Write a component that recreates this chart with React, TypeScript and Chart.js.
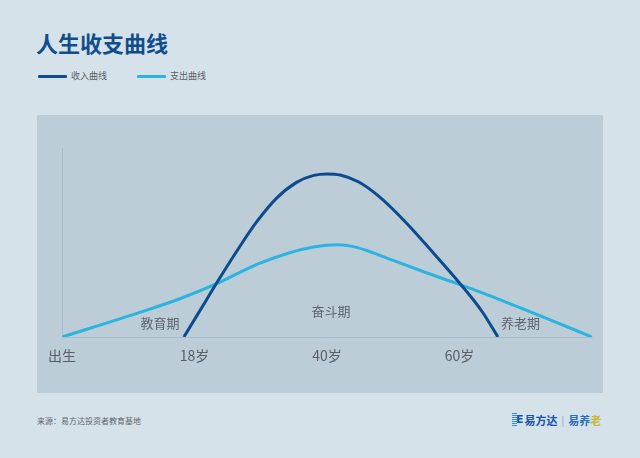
import React, { useEffect, useRef } from "react";
import { Chart, registerables } from "chart.js";

Chart.register(...registerables);

const title = "人生收支曲线";
const seriesNames = ["收入曲线", "支出曲线"];
const tickValues = [0, 1, 2, 3];
const tickLabels = ["出生", "18岁", "40岁", "60岁"];

const incomeX = [0.92, 1.05, 1.18, 1.32, 1.47, 1.62, 1.77, 1.9, 2.0, 2.1, 2.24, 2.39, 2.59, 2.79, 3.0, 3.17, 3.29];
const incomeY = [0, 15, 30, 45.5, 61, 73.5, 81.8, 85.5, 86.3, 85.7, 82, 74.5, 61, 45.5, 28.6, 13.5, 0];

const expenseX = [0, 0.6, 0.9, 1.18, 1.35, 1.5, 1.7, 1.9, 2.08, 2.2, 2.35, 2.5, 2.75, 3.0, 3.35, 3.67, 4.0];
const expenseY = [0, 13.3, 20.5, 28.6, 34.5, 39.2, 44.2, 47.6, 48.8, 47.8, 44.5, 40.5, 34, 27.8, 18.5, 9.5, 0];

const phaseLabels = ["教育期", "奋斗期", "养老期"];
const phaseX = [0.74, 2.03, 3.46];
const phaseY = [7.4, 13.5, 7.4];

const sourceText = "来源：易方达投资者教育基地";

const DARK = "#0e4a8e";
const LIGHT = "#2ab4df";
const FONT = "'Noto Sans CJK SC', 'Noto Sans', sans-serif";

const phasePlugin = {
  id: "phaseLabels",
  afterDatasetsDraw(chart: any) {
    const { ctx, scales } = chart;
    ctx.save();
    ctx.font = `13px ${FONT}`;
    ctx.fillStyle = "#5d6670";
    ctx.textAlign = "center";
    ctx.textBaseline = "middle";
    phaseLabels.forEach((t, i) => {
      ctx.fillText(t, scales.x.getPixelForValue(phaseX[i]), scales.y.getPixelForValue(phaseY[i]));
    });
    ctx.restore();
  },
};

export default function App() {
  const ref = useRef<HTMLCanvasElement>(null);
  useEffect(() => {
    if (!ref.current) return;
    const chart = new Chart(ref.current, {
      type: "line",
      data: {
        datasets: [
          {
            label: seriesNames[0],
            data: incomeX.map((x, i) => ({ x, y: incomeY[i] })),
            borderColor: DARK,
            borderWidth: 3,
            pointRadius: 0,
            cubicInterpolationMode: "monotone",
            fill: false,
          },
          {
            label: seriesNames[1],
            data: expenseX.map((x, i) => ({ x, y: expenseY[i] })),
            borderColor: LIGHT,
            borderWidth: 3,
            pointRadius: 0,
            cubicInterpolationMode: "monotone",
            fill: false,
          },
        ],
      },
      options: {
        responsive: false,
        animation: false,
        layout: { padding: { left: 25, right: 11, top: 33, bottom: 0 } },
        plugins: { legend: { display: false }, tooltip: { enabled: false }, title: { display: false } },
        scales: {
          x: {
            type: "linear",
            min: 0,
            max: 4,
            grid: { display: false, drawTicks: false },
            border: { display: true, color: "#a9bccb", width: 1 },
            afterBuildTicks: (scale: any) => {
              scale.ticks = tickValues.map((v) => ({ value: v }));
            },
            afterFit: (scale: any) => {
              scale.height = 56;
            },
            ticks: {
              padding: 10,
              autoSkip: false,
              maxRotation: 0,
              color: "#585f66",
              font: { family: FONT, size: 14 },
              callback: (v: any) => tickLabels[tickValues.indexOf(Number(v))] ?? "",
            },
          },
          y: {
            min: 0,
            max: 100,
            grid: { display: false, drawTicks: false },
            border: { display: true, color: "#a9bccb", width: 1 },
            ticks: { display: false },
            afterFit: (scale: any) => {
              scale.width = 0;
            },
          },
        },
      },
      plugins: [phasePlugin],
    } as any);
    return () => chart.destroy();
  }, []);

  return (
    <div
      style={{
        position: "absolute",
        left: 0,
        top: 0,
        width: 640,
        height: 458,
        background: "#d6e2ea",
        fontFamily: FONT,
        overflow: "hidden",
      }}
    >
      <div
        style={{
          position: "absolute",
          left: 36,
          top: 29,
          fontSize: 22,
          fontWeight: 700,
          color: "#0f4d8c",
          lineHeight: "26px",
          whiteSpace: "nowrap",
        }}
      >
        {title}
      </div>
      {[0, 1].map((i) => (
        <div
          key={i}
          style={{ position: "absolute", left: i === 0 ? 38 : 137, top: 69, height: 14, display: "flex", alignItems: "center" }}
        >
          <div style={{ width: 29, height: 3, background: i === 0 ? DARK : LIGHT, borderRadius: 1 }} />
          <span style={{ marginLeft: 4, fontSize: 9, color: "#5a5f66", lineHeight: "14px", whiteSpace: "nowrap" }}>
            {seriesNames[i]}
          </span>
        </div>
      ))}
      <div style={{ position: "absolute", left: 37, top: 115, width: 566, height: 278, background: "#bccdd7" }}>
        <canvas ref={ref} width={566} height={278} style={{ display: "block" }} />
      </div>
      <div style={{ position: "absolute", left: 37, top: 415, fontSize: 8, color: "#5f666d", lineHeight: "12px", whiteSpace: "nowrap" }}>
        {sourceText}
      </div>
      <div
        style={{
          position: "absolute",
          left: 512,
          top: 413,
          height: 14,
          display: "flex",
          alignItems: "center",
          whiteSpace: "nowrap",
          fontSize: 11,
          lineHeight: "14px",
        }}
      >
        <span
          style={{
            display: "inline-block",
            fontWeight: 900,
            color: "#1652a8",
            fontFamily: "'DejaVu Sans', sans-serif",
            fontSize: 11,
            paddingLeft: 4,
            backgroundImage: "repeating-linear-gradient(180deg, #3a8fd8 0 1px, transparent 1px 2px)",
            backgroundSize: "5px 100%",
            backgroundRepeat: "no-repeat",
          }}
        >
          E
        </span>
        <span style={{ fontWeight: 700, color: "#1652a8", marginLeft: 1 }}>易方达</span>
        <span style={{ color: "#8fa3b5", margin: "0 4px", fontSize: 10 }}>|</span>
        <span style={{ fontWeight: 700, color: "#2a6cc0" }}>
          易养<span style={{ color: "#c9b83a" }}>老</span>
        </span>
      </div>
    </div>
  );
}
